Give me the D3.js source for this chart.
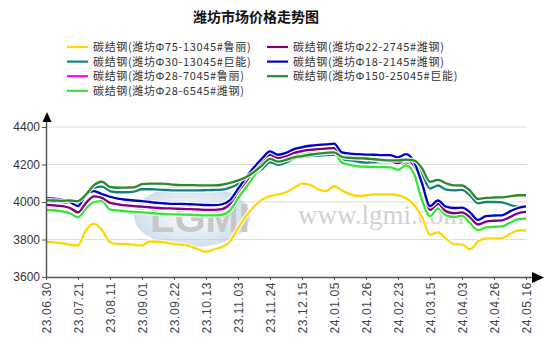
<!DOCTYPE html>
<html><head><meta charset="utf-8">
<script src="https://cdn.jsdelivr.net/npm/d3@7"></script>
<style>
html,body{margin:0;padding:0;background:#fff;}
svg{display:block;}
</style></head>
<body>
<svg id="c" width="554" height="357"></svg>
<script>
const title = "潍坊市场价格走势图";
const tickLabels = ["23.06.30","23.07.21","23.08.11","23.09.01","23.09.22","23.10.13","23.11.03","23.11.24","23.12.15","24.01.05","24.01.26","24.02.23","24.03.15","24.04.03","24.04.26","24.05.16"];
const yTicks = [3600, 3800, 4000, 4200, 4400];

const seriesNames = [
  "碳结钢(潍坊Φ75-13045#鲁丽)",
  "碳结钢(潍坊Φ30-13045#巨能)",
  "碳结钢(潍坊Φ28-7045#鲁丽)",
  "碳结钢(潍坊Φ28-6545#潍钢)",
  "碳结钢(潍坊Φ22-2745#潍钢)",
  "碳结钢(潍坊Φ18-2145#潍钢)",
  "碳结钢(潍坊Φ150-25045#巨能)"
];
const seriesColors = ["#ffd700", "#168080", "#ff00ff", "#33e633", "#800080", "#0000cc", "#2a8a2a"];

const yellow = [3787,3785,3780,3772,3768,3850,3885,3850,3785,3775,3777,3772,3768,3790,3788,3783,3776,3772,3765,3748,3735,3748,3760,3790,3860,3925,3975,4012,4032,4040,4052,4075,4098,4092,4068,4058,4084,4062,4042,4032,4036,4040,4040,4040,4036,4020,3985,3920,3825,3838,3805,3775,3774,3748,3790,3805,3806,3807,3830,3848,3849];
const teal = [4003,4001,3998,3995,3995,4030,4075,4082,4058,4052,4052,4055,4068,4068,4066,4064,4062,4062,4062,4062,4063,4064,4066,4077,4095,4118,4145,4175,4212,4198,4210,4232,4240,4245,4248,4250,4252,4228,4222,4215,4210,4212,4213,4212,4205,4205,4205,4150,4072,4088,4066,4062,4065,4035,3993,4000,4000,3998,3985,3975,3975];
const purple = [3985,3982,3978,3968,3945,3995,4030,4022,3995,3988,3982,3978,3975,3972,3968,3966,3965,3963,3962,3960,3958,3958,3962,3990,4055,4110,4165,4215,4252,4235,4245,4262,4272,4278,4282,4285,4287,4245,4240,4238,4232,4228,4220,4218,4208,4225,4195,4100,3958,3990,3950,3940,3945,3918,3880,3895,3900,3902,3920,3940,3947];
const magenta = purple.slice();
const lime = [3958,3956,3950,3940,3918,3965,4000,4005,3960,3955,3950,3947,3945,3942,3938,3935,3934,3933,3932,3930,3929,3929,3932,3955,4020,4078,4140,4195,4235,4228,4235,4250,4258,4260,4262,4265,4265,4210,4198,4190,4188,4187,4186,4185,4172,4195,4150,4010,3925,3965,3930,3920,3927,3888,3850,3865,3868,3870,3890,3908,3911];
const blue = [4020,4018,4012,4000,3978,4040,4058,4042,4028,4018,4012,4008,4005,4000,3995,3992,3990,3990,3988,3986,3984,3983,3988,4010,4070,4130,4185,4232,4270,4252,4262,4282,4292,4300,4305,4307,4311,4265,4258,4255,4253,4252,4250,4250,4238,4255,4215,4100,3978,4008,3975,3968,3970,3945,3905,3925,3928,3929,3950,3968,3977];
const darkgreen = [4010,4008,4006,4008,4005,4040,4090,4108,4080,4076,4077,4078,4095,4098,4098,4097,4092,4090,4090,4089,4089,4089,4092,4102,4115,4132,4160,4195,4230,4215,4225,4238,4245,4252,4258,4262,4265,4240,4235,4233,4232,4228,4225,4222,4222,4226,4222,4180,4108,4118,4100,4089,4088,4060,4016,4022,4024,4025,4030,4036,4036];

const seriesValues = [yellow, teal, magenta, lime, purple, blue, darkgreen];
const pointsPerTick = 4;

const svg = d3.select("#c");
const x = d3.scaleLinear().domain([0, (tickLabels.length - 1) * pointsPerTick]).range([46, 526]);
const y = d3.scaleLinear().domain([3600, 4400]).range([277, 127]);

// title
svg.append("text").attr("x", 193).attr("y", 22)
  .attr("font-family", "'Noto Sans CJK SC', sans-serif").attr("font-weight", "bold")
  .attr("font-size", 14).attr("fill", "#111").text(title);

// legend (column-major, 4 rows)
const legend = svg.append("g");
seriesNames.forEach((n, i) => {
  const col = Math.floor(i / 4), row = i % 4;
  const lx = 67 + col * 200, ly = 47 + row * 14.6;
  legend.append("line").attr("x1", lx).attr("x2", lx + 21).attr("y1", ly).attr("y2", ly)
    .attr("stroke", seriesColors[i]).attr("stroke-width", 2.2);
  legend.append("text").attr("x", lx + 26).attr("y", ly + 4)
    .attr("font-family", "'Noto Sans CJK SC', sans-serif").attr("font-size", 11)
    .attr("letter-spacing", 0.65).attr("fill", "#333").text(n);
});

// gridlines
svg.append("g").selectAll("line").data(yTicks.filter(v => v > 3600)).join("line")
  .attr("x1", 47).attr("x2", 527).attr("y1", d => y(d)).attr("y2", d => y(d))
  .attr("stroke", "#dcdcdc").attr("stroke-width", 1);

// watermark
const wm = svg.append("g").attr("opacity", 0.55);
const grad = svg.append("defs").append("radialGradient").attr("id", "lg");
grad.append("stop").attr("offset", "0%").attr("stop-color", "#ffffff");
grad.append("stop").attr("offset", "100%").attr("stop-color", "#a9c6e0");
wm.append("ellipse").attr("cx", 192).attr("cy", 216).attr("rx", 58).attr("ry", 31).attr("fill", "url(#lg)");
wm.append("text").attr("x", 150).attr("y", 232).attr("font-family", "'Liberation Sans', sans-serif")
  .attr("font-weight", "bold").attr("font-size", 40).attr("fill", "#9a9a9a").text("LGMI");
svg.append("text").attr("x", 298).attr("y", 224).attr("font-family", "'Liberation Serif', serif")
  .attr("font-size", 27).attr("fill", "#d2d2d2").text("www.lgmi.com");

// lines
const line = d3.line().x((d, i) => x(i)).y(d => y(d)).curve(d3.curveMonotoneX);
const lines = svg.append("g");
seriesValues.forEach((vals, i) => {
  lines.append("path").attr("d", line(vals)).attr("fill", "none")
    .attr("stroke", "#ffffff").attr("stroke-opacity", 0.85).attr("stroke-width", 4.6);
  lines.append("path").attr("d", line(vals)).attr("fill", "none")
    .attr("stroke", seriesColors[i]).attr("stroke-width", 2.3).attr("stroke-linejoin", "round");
});

// y axis
const yAxis = svg.append("g").attr("transform", "translate(46,0)")
  .call(d3.axisLeft(y).tickValues(yTicks).tickFormat(d3.format("d")).tickSize(4).tickPadding(2));
yAxis.select(".domain").remove();
yAxis.selectAll("line").attr("stroke", "#555");
yAxis.selectAll("text").attr("font-family", "'Liberation Sans', Arial, sans-serif")
  .attr("font-size", 12).attr("fill", "#333");
svg.append("line").attr("x1", 46.5).attr("x2", 46.5).attr("y1", 277).attr("y2", 118)
  .attr("stroke", "#555").attr("stroke-width", 1.5);
svg.append("path").attr("d", "M47,112 L42.5,122 L51.5,122 Z").attr("fill", "#000");

// x axis
const xAxis = svg.append("g").attr("transform", "translate(0,277)")
  .call(d3.axisBottom(x).tickValues(d3.range(tickLabels.length).map(i => i * pointsPerTick))
    .tickFormat((d, i) => tickLabels[i]).tickSize(3).tickPadding(3));
xAxis.select(".domain").remove();
xAxis.selectAll("line").attr("stroke", "#555");
xAxis.selectAll("text").attr("font-family", "'Liberation Sans', Arial, sans-serif")
  .attr("font-size", 12).attr("fill", "#444").attr("letter-spacing", 0.6)
  .attr("text-anchor", "end").attr("transform", "rotate(-90)")
  .attr("x", -5).attr("y", 0).attr("dy", "0.35em");
svg.append("line").attr("x1", 46).attr("x2", 536).attr("y1", 277.5).attr("y2", 277.5)
  .attr("stroke", "#555").attr("stroke-width", 1.5);
svg.append("path").attr("d", "M544,277.5 L532,272 L532,283 Z").attr("fill", "#000");
</script>
</body></html>
